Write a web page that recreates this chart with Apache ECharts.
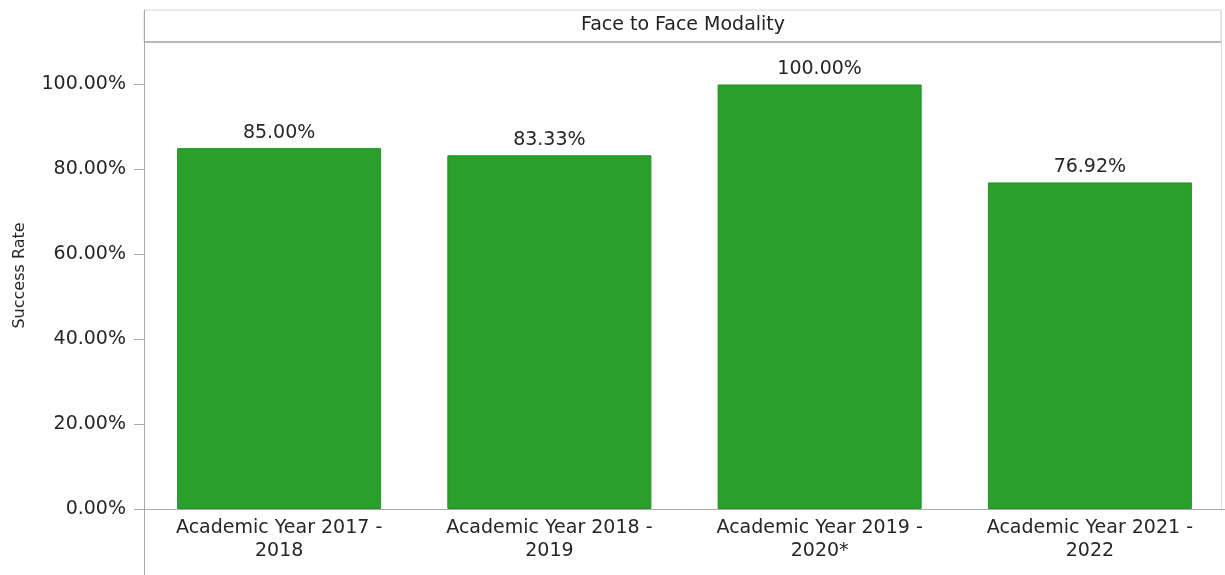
<!DOCTYPE html>
<html>
<head>
<meta charset="utf-8">
<script src="https://cdn.jsdelivr.net/npm/echarts@6/dist/echarts.min.js"></script>
<style>
html,body{margin:0;padding:0;background:#fff;}
#chart{width:1225px;height:575px;}
</style>
</head>
<body>
<div id="chart"></div>
<script>
var categories = ['Academic Year 2017 - 2018', 'Academic Year 2018 - 2019', 'Academic Year 2019 - 2020*', 'Academic Year 2021 - 2022'];
var successRate = [85.00, 83.33, 100.00, 76.92];
var tickValues = [0, 20, 40, 60, 80, 100];
var panelTitle = 'Face to Face Modality';
var yAxisTitle = 'Success Rate';

var FONT = 'DejaVu Sans';
var chart = echarts.init(document.getElementById('chart'), null, {renderer: 'canvas'});
chart.setOption({
  backgroundColor: '#ffffff',
  animation: false,
  textStyle: {fontFamily: FONT},
  grid: {left: 144, right: 0, top: 42, bottom: 66, containLabel: false},
  graphic: [
    {type: 'rect', silent: true, shape: {x: 144, y: 10, width: 1077, height: 32},
     style: {fill: '#ffffff', stroke: '#d6d6d6', lineWidth: 1}},
    {type: 'line', silent: true, shape: {x1: 144, y1: 42, x2: 1221, y2: 42},
     style: {stroke: '#b8b8b8', lineWidth: 2}},
    {type: 'line', silent: true, shape: {x1: 144.5, y1: 10, x2: 144.5, y2: 575},
     style: {stroke: '#a8a8a8', lineWidth: 1}},
    {type: 'line', silent: true, shape: {x1: 1221.5, y1: 10, x2: 1221.5, y2: 509},
     style: {stroke: '#dcdcdc', lineWidth: 1}},
    {type: 'text', silent: true, x: 683, y: 25,
     style: {text: panelTitle, font: '19px "DejaVu Sans"', fill: '#222', align: 'center', verticalAlign: 'middle'}}
  ],
  xAxis: {
    type: 'category',
    data: categories,
    axisLine: {show: true, lineStyle: {color: '#aaaaaa', width: 1}},
    axisTick: {show: false},
    axisLabel: {
      color: '#262626', fontSize: 19, fontFamily: FONT, margin: 8, lineHeight: 23,
      interval: 0,
      formatter: function (v) { return v.replace(' - ', ' -\n'); }
    },
    splitLine: {show: false}
  },
  yAxis: {
    type: 'value',
    min: 0, max: 110, interval: 20,
    name: yAxisTitle,
    nameLocation: 'middle',
    nameGap: 116,
    nameRotate: 90,
    nameTextStyle: {color: '#262626', fontSize: 16, fontFamily: FONT},
    axisLine: {show: true, lineStyle: {color: '#aaaaaa'}},
    axisTick: {show: true, length: 10, customValues: tickValues, lineStyle: {color: '#aaaaaa'}},
    axisLabel: {
      customValues: tickValues,
      color: '#262626', fontSize: 19, fontFamily: FONT, margin: 18,
      formatter: function (v) { return v.toFixed(2) + '%'; }
    },
    splitLine: {show: false}
  },
  series: [{
    type: 'bar',
    data: successRate,
    barCategoryGap: '24.5%',
    itemStyle: {color: '#2aa02a', borderColor: '#21912a', borderWidth: 1},
    label: {
      show: true, position: 'top', distance: 6,
      color: '#262626', fontSize: 19, fontFamily: FONT,
      formatter: function (p) { return p.value.toFixed(2) + '%'; }
    }
  }]
});
</script>
</body>
</html>
